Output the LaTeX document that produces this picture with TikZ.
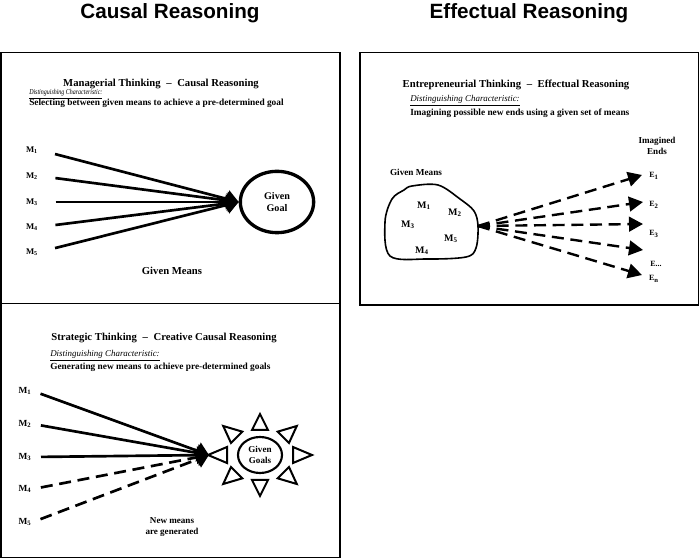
\documentclass[tikz,border=0pt]{standalone}
\usepackage{fontspec}
\setmainfont{Liberation Serif}
\newfontfamily\headfont{Liberation Sans}
\newfontfamily\narrowfont[FakeStretch=0.8]{Liberation Serif}
\usepackage{tikz}
\usetikzlibrary{positioning}
\usetikzlibrary{arrows.meta}
\usetikzlibrary{shapes}

\begin{document}
\begin{tikzpicture} [
    x=0.75pt, y=-0.75pt,            % pixel grid, y going down
    ]
% -------------------------------------------------
\tikzset{
  panel/.style={draw, line width=1.1pt},
  head/.style={font=\headfont\bfseries\fontsize{15.5}{18}\selectfont},
  ttl/.style={inner sep=0pt, font=\bfseries\fontsize{8}{10}\selectfont},
  chr/.style={anchor=west, inner sep=0pt, font=\itshape\fontsize{6.7}{8}\selectfont},
  dsc/.style={anchor=west, inner sep=0pt, font=\bfseries\fontsize{7}{8}\selectfont},
  lbl/.style={inner sep=1pt, font=\bfseries\fontsize{6.5}{7}\selectfont},
  txt/.style={align=center, font=\bfseries\fontsize{7}{8.5}\selectfont},
  means/.style={draw, line width=2pt, -{Triangle[length=9pt,width=13pt]}},
  newmeans/.style={means, dash pattern=on 9pt off 5pt},
  ends/.style={draw, line width=1.8pt, dash pattern=on 9pt off 5pt, -{Triangle[length=10.5pt,width=11pt]}},
  ray/.style={draw, line width=1.5pt, fill=white, line join=miter}
}
    \useasboundingbox (0,0) rectangle (700,559);

    \node [head] (hca) at (170,13) {Causal Reasoning};
    \node [head] (hef) at (529,13) {Effectual Reasoning};

    \draw[panel] (0.8,52.5) rectangle (340,303.5);                  % panel 1: managerial
    \draw[panel] (360,52.5) rectangle (698.5,305);                  % panel 2: entrepreneurial
    \draw[panel] (0.8,303.5) rectangle (340,557.5);                 % panel 3: strategic

    % panel 1
    \node [ttl] (t1) at (161,84) {Managerial Thinking \;--\; Causal Reasoning};
    \node [chr, font=\narrowfont\itshape\fontsize{5.6}{6}\selectfont] (c1) at (29,94) {\underline{Distinguishing Characteristic:}};
    \node [dsc] (d1) at (29,103) {Selecting between given means to achieve a pre-determined goal};

    \node [lbl] (ma1) at (32,150) {M\textsubscript{1}};
    \node [lbl] (ma2) at (32,176) {M\textsubscript{2}};
    \node [lbl] (ma3) at (32,202) {M\textsubscript{3}};
    \node [lbl] (ma4) at (32,227) {M\textsubscript{4}};
    \node [lbl] (ma5) at (32,252) {M\textsubscript{5}};

    \node [draw, ellipse, line width=2.5pt, minimum width=55pt, minimum height=46pt, inner sep=0pt,
           txt, font=\bfseries\fontsize{7.6}{9}\selectfont] (goal) at (277,202) {Given\\Goal};
    \node [txt, font=\bfseries\fontsize{8}{9}\selectfont] (gm1) at (172,271) {Given Means};

    \foreach \i in {1,...,5}
      \path [means, shorten <=12pt] (ma\i.east) -- (goal.west);

    % panel 2
    \node [ttl] (t2) at (516,85) {Entrepreneurial Thinking \;--\; Effectual Reasoning};
    \node [chr] (c2) at (410,101) {\underline{Distinguishing Characteristic:}};
    \node [dsc] (d2) at (410,113) {Imagining possible new ends using a given set of means};

    \node [txt, font=\bfseries\fontsize{6.9}{8}\selectfont] (gm2) at (416,172) {Given Means};
    \node [txt, font=\bfseries\fontsize{6.8}{8.2}\selectfont] (ie) at (657,146) {Imagined\\Ends};

    \draw [line width=1.2pt] plot [smooth cycle, tension=0.55] coordinates {
      (412,186) (438,185) (460,199) (474,211) (478,226) (476,248) (466,257)
      (427,259) (390,256) (385,222) (392,199) (404,190)};                 % means blob
    \coordinate (src) at (478,226);

    \node [lbl, font=\bfseries\fontsize{7.5}{8}\selectfont] (mb1) at (424,206) {M\textsubscript{1}};
    \node [lbl, font=\bfseries\fontsize{7.5}{8}\selectfont] (mb2) at (455,213) {M\textsubscript{2}};
    \node [lbl, font=\bfseries\fontsize{7.5}{8}\selectfont] (mb3) at (408,225) {M\textsubscript{3}};
    \node [lbl, font=\bfseries\fontsize{7.5}{8}\selectfont] (mb5) at (451,239) {M\textsubscript{5}};
    \node [lbl, font=\bfseries\fontsize{7.5}{8}\selectfont] (mb4) at (422,251) {M\textsubscript{4}};

    \node [lbl, font=\bfseries\fontsize{6}{7}\selectfont] (e1) at (654,176) {E\textsubscript{1}};
    \node [lbl, font=\bfseries\fontsize{6}{7}\selectfont] (e2) at (654,205) {E\textsubscript{2}};
    \node [lbl, font=\bfseries\fontsize{6}{7}\selectfont] (e3) at (654,234) {E\textsubscript{3}};
    \node [lbl, font=\bfseries\fontsize{6}{7}\selectfont] (ed) at (656,264) {E...};
    \node [lbl, font=\bfseries\fontsize{6}{7}\selectfont] (en) at (654,279) {E\textsubscript{n}};

    \coordinate (tp1) at (642,175);
    \coordinate (tp2) at (643,202);
    \coordinate (tp3) at (643,224);
    \coordinate (tp4) at (643,250);
    \coordinate (tp5) at (642,275);
    \foreach \i in {1,...,5}
      \path [ends] (src) -- (tp\i);

    % panel 3
    \node [ttl] (t3) at (164,338) {Strategic Thinking \;--\; Creative Causal Reasoning};
    \node [chr] (c3) at (50,356) {\underline{Distinguishing Characteristic:}};
    \node [dsc] (d3) at (50,367) {Generating new means to achieve pre-determined goals};

    \node [lbl, font=\bfseries\fontsize{7}{8}\selectfont] (mc1) at (25,391) {M\textsubscript{1}};
    \node [lbl, font=\bfseries\fontsize{7}{8}\selectfont] (mc2) at (25,424) {M\textsubscript{2}};
    \node [lbl, font=\bfseries\fontsize{7}{8}\selectfont] (mc3) at (25,457) {M\textsubscript{3}};
    \node [lbl, font=\bfseries\fontsize{7}{8}\selectfont] (mc4) at (25,489) {M\textsubscript{4}};
    \node [lbl, font=\bfseries\fontsize{7}{8}\selectfont] (mc5) at (25,522) {M\textsubscript{5}};

    \foreach \a in {0,45,...,315}
      \draw [ray] ({260+33*cos(\a)+8*sin(\a)},{455-25*sin(\a)+8*cos(\a)})
          -- ({260+52*cos(\a)},{455-41*sin(\a)})
          -- ({260+33*cos(\a)-8*sin(\a)},{455-25*sin(\a)-8*cos(\a)}) -- cycle;   % sun rays
    \node [draw, ellipse, line width=1.6pt, minimum width=33pt, minimum height=27pt, inner sep=0pt,
           txt, font=\bfseries\fontsize{6.8}{8}\selectfont] (goals) at (260,455) {Given\\Goals};
    \coordinate [left=21pt of goals.west] (sun);

    \path [means, shorten <=6pt] (mc1.east) -- (sun);
    \path [means, shorten <=6pt] (mc2.east) -- (sun);
    \path [means, shorten <=6pt] (mc3.east) -- (sun);
    \path [newmeans, shorten <=6pt] (mc4.east) -- (sun);
    \path [newmeans, shorten <=6pt] (mc5.east) -- (sun);

    \node [txt, font=\bfseries\fontsize{6.8}{8.2}\selectfont] (nm) at (172,527) {New means\\are generated};

\end{tikzpicture}
\end{document}
